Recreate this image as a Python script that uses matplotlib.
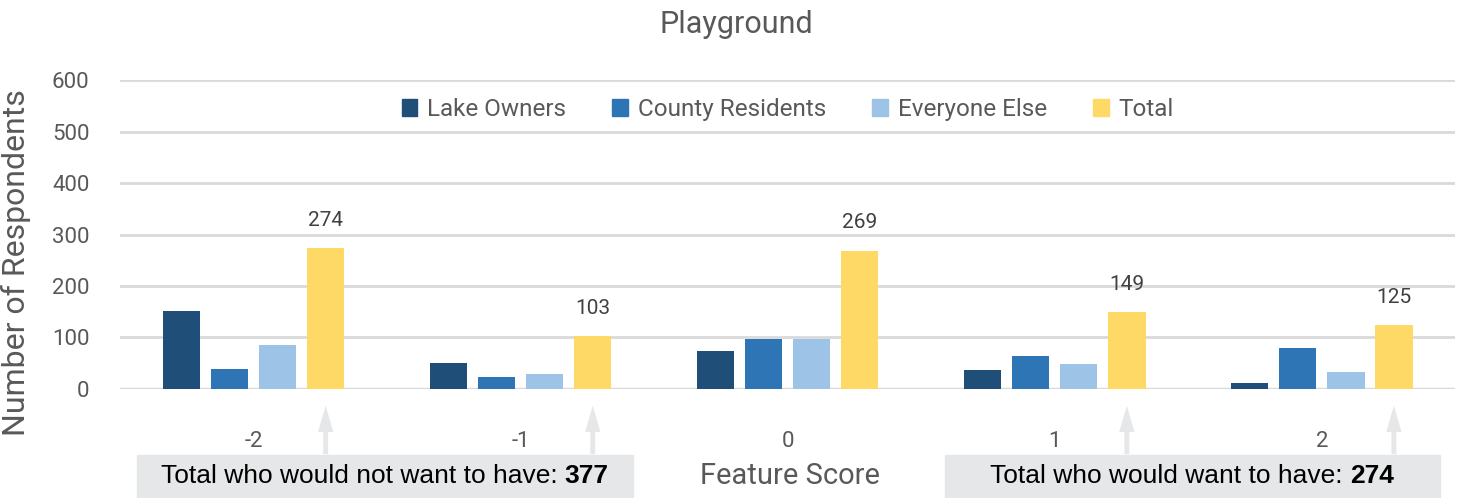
import matplotlib
matplotlib.use("Agg")
import matplotlib.pyplot as plt
from matplotlib.patches import Patch, Rectangle
import numpy as np

scores = ["-2", "-1", "0", "1", "2"]
lake_owners = [151, 50, 74, 37, 12]
county_residents = [38, 24, 97, 64, 80]
everyone_else = [85, 29, 98, 48, 33]
total = [274, 103, 269, 149, 125]
series_names = ["Lake Owners", "County Residents", "Everyone Else", "Total"]
colors = ["#1f4e79", "#2e75b6", "#9dc3e6", "#ffd966"]
not_want = 377
want = 274

gray = "#595959"
plt.rcParams["font.family"] = ["Roboto", "DejaVu Sans"]

fig = plt.figure(figsize=(14.73, 4.98), dpi=100)
ax = fig.add_axes([0.0815, 0.219, 0.9065, 0.62])

x = np.arange(len(scores))
step = 0.18
width = 0.14
series = [lake_owners, county_residents, everyone_else, total]
for i, vals in enumerate(series):
    bars = ax.bar(x + (i - 1.5) * step, vals, width, color=colors[i], zorder=3)
    if i == 3:
        for b, v in zip(bars, vals):
            ax.annotate(str(v), (b.get_x() + b.get_width() / 2, v),
                        xytext=(0, 13), textcoords="offset points",
                        ha="center", va="bottom", fontsize=15, color="#404040")

ax.set_ylim(0, 600)
ax.set_xlim(-0.5, len(scores) - 0.5)
ax.set_yticks(range(0, 601, 100))
ax.set_xticks(x)
ax.set_xticklabels(scores)
ax.grid(axis="y", color="#d9d9d9", lw=2, zorder=0)
ax.axhline(0, color="#d9d9d9", lw=2.5, zorder=2)
for s in ax.spines.values():
    s.set_visible(False)
ax.tick_params(axis="y", length=0, pad=22, labelsize=16, labelcolor=gray)
ax.tick_params(axis="x", length=0, pad=30, labelsize=16, labelcolor=gray)

ax.set_ylabel("Number of Respondents", fontsize=23, color=gray)
ax.yaxis.set_label_coords(-0.067, 0.41)

fig.text(0.5, 0.95, "Playground", fontsize=22, color=gray, ha="center", va="center")

handles = [Patch(color=c, label=n) for c, n in zip(colors, series_names)]
ax.legend(handles=handles, loc="center", bbox_to_anchor=(0.5, 0.905), ncol=4,
          frameon=False, fontsize=17.5, labelcolor=gray, handlelength=0.65,
          handleheight=0.65, handletextpad=0.4, columnspacing=1.9)

# arrows under the Total bars
trans = ax.get_xaxis_transform()
for i in [0, 1, 3, 4]:
    ax.annotate("", xy=(x[i] + 1.5 * step, -0.045), xytext=(x[i] + 1.5 * step, -0.22),
                xycoords=trans, textcoords=trans, annotation_clip=False,
                arrowprops=dict(arrowstyle="simple,head_width=1.1,head_length=1.9,tail_width=0.35",
                                color="#e6e7e8", lw=0))

# summary boxes
box_color = "#e6e7e8"
fig.patches.append(Rectangle((0.093, 0.002), 0.337, 0.084, transform=fig.transFigure,
                             color=box_color, zorder=0))
fig.patches.append(Rectangle((0.6415, 0.002), 0.336, 0.084, transform=fig.transFigure,
                             color=box_color, zorder=0))

box_font = ["Liberation Sans"]
t1 = fig.text(0.109, 0.044, "Total who would not want to have: ", fontsize=19,
              family=box_font, color="black", va="center")
t2 = fig.text(0.672, 0.044, "Total who would want to have: ", fontsize=19,
              family=box_font, color="black", va="center")
fig.canvas.draw()
inv = fig.transFigure.inverted()
for t, val in [(t1, not_want), (t2, want)]:
    bb = t.get_window_extent()
    fx = inv.transform((bb.x1, bb.y0))[0]
    fig.text(fx, 0.044, str(val), fontsize=19, family=box_font, fontweight="bold",
             color="black", va="center")

fig.text(0.536, 0.044, "Feature Score", fontsize=21, color=gray, ha="center", va="center")

fig.savefig("out.png", dpi=100)
